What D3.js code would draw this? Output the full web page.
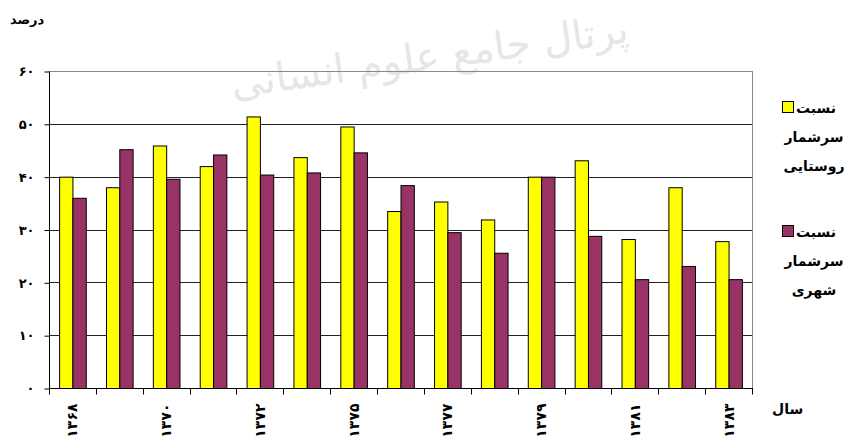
<!DOCTYPE html>
<html>
<head>
<meta charset="utf-8">
<script src="https://cdn.jsdelivr.net/npm/d3@7"></script>
<style>
  html, body { margin: 0; padding: 0; background: #fff; }
  svg { display: block; }
  text { font-family: "DejaVu Sans", "Noto Sans", sans-serif; font-weight: bold; fill: #000; }
</style>
</head>
<body>
<svg id="chart" width="848" height="439"></svg>
<script>
// Census coverage ratios by year (percent)
const years = ["1368", "1369", "1370", "1371", "1372", "1374", "1375", "1376", "1377", "1378", "1379", "1380", "1381", "1382", "1383"];
const labelledYears = ["1368", "1370", "1372", "1375", "1377", "1379", "1381", "1383"];
const ruralValues = [40.0, 38.0, 45.9, 42.0, 51.4, 43.7, 49.5, 33.5, 35.3, 31.9, 40.0, 43.1, 28.2, 38.0, 27.8];
const urbanValues = [36.0, 45.2, 39.6, 44.2, 40.4, 40.8, 44.6, 38.4, 29.5, 25.6, 40.0, 28.8, 20.6, 23.1, 20.6];
const yTicks = [0, 10, 20, 30, 40, 50, 60];
const seriesNames = ["rural", "urban"];
const legendLines = [["نسبت", "سرشمار", "روستایی"], ["نسبت", "سرشمار", "شهری"]];
const colors = { rural: "#FFFF00", urban: "#993366" };

const fa = s => String(s).replace(/[0-9]/g, d => "۰۱۲۳۴۵۶۷۸۹"[+d]);

const svg = d3.select("#chart");
const plotLeft = 49, plotRight = 752, plotTop = 71, plotBottom = 388;

const x = d3.scaleBand().domain(years).range([plotLeft, plotRight]).paddingInner(0).paddingOuter(0);
const xs = d3.scaleBand().domain(seriesNames).range([0, x.bandwidth()]).paddingInner(0).paddingOuter(0.76);
const y = d3.scaleLinear().domain([0, 60]).range([plotBottom, plotTop]);

// faint watermark
svg.append("text")
  .attr("x", 430).attr("y", 70)
  .attr("text-anchor", "middle")
  .attr("transform", "rotate(-8,430,60)")
  .style("font-size", "40px").style("font-weight", "normal")
  .style("fill", "#e6e6e6")
  .text("پرتال جامع علوم انسانی");

// horizontal gridlines
svg.append("g").selectAll("line").data(yTicks.filter(t => t > 0))
  .join("line")
  .attr("x1", plotLeft).attr("x2", plotRight)
  .attr("y1", d => Math.round(y(d)) + 0.5).attr("y2", d => Math.round(y(d)) + 0.5)
  .attr("stroke", d => d === 60 ? "#888" : "#222").attr("stroke-width", 1);

// right border
svg.append("line")
  .attr("x1", plotRight + 0.5).attr("x2", plotRight + 0.5)
  .attr("y1", y(60)).attr("y2", plotBottom)
  .attr("stroke", "#888");

// bars
const rows = years.map((yr, i) => ({ year: yr, rural: ruralValues[i], urban: urbanValues[i] }));
const groups = svg.append("g").selectAll("g").data(rows).join("g")
  .attr("transform", d => `translate(${x(d.year)},0)`);
groups.selectAll("rect")
  .data(d => seriesNames.map(k => ({ key: k, value: d[k] })))
  .join("rect")
  .attr("x", d => xs(d.key) + 0.5)
  .attr("y", d => y(d.value) + 0.5)
  .attr("width", xs.bandwidth())
  .attr("height", d => plotBottom - y(d.value))
  .attr("fill", d => colors[d.key])
  .attr("stroke", "#000").attr("stroke-width", 1);

// y axis
const yAxis = d3.axisLeft(y).tickValues(yTicks).tickSize(5).tickFormat(d => fa(d));
const gy = svg.append("g").attr("transform", `translate(${plotLeft + 0.5},0.5)`).call(yAxis);
gy.select(".domain").attr("stroke", "#000").attr("d", `M0,${plotTop}V${plotBottom}`);
gy.selectAll(".tick line").attr("stroke", "#000");
gy.selectAll(".tick text").attr("x", -15).style("font-size", "13px").style("font-family", "Liberation Sans, DejaVu Sans, sans-serif");

// x axis: ticks at band boundaries
const gx = svg.append("g").attr("transform", `translate(0,${plotBottom + 0.5})`);
gx.append("line").attr("x1", plotLeft).attr("x2", plotRight + 1).attr("stroke", "#000");
gx.selectAll(".bt").data(years.concat(["end"])).join("line")
  .attr("class", "bt")
  .attr("x1", (d, i) => Math.round(plotLeft + i * x.step()) + 0.5)
  .attr("x2", (d, i) => Math.round(plotLeft + i * x.step()) + 0.5)
  .attr("y1", 0).attr("y2", 6)
  .attr("stroke", "#000");
gx.selectAll(".yl").data(labelledYears).join("text")
  .attr("class", "yl")
  .attr("transform", d => `translate(${x(d) + x.bandwidth() / 2},15) rotate(-90)`)
  .attr("text-anchor", "end")
  .attr("dominant-baseline", "central")
  .style("font-size", "14px")
  .text(d => fa(d));

// axis titles
svg.append("text").attr("x", 10).attr("y", 24).style("font-size", "13px").text("درصد");
svg.append("text").attr("x", 772).attr("y", 414).style("font-size", "14px").text("سال");

// legend
const legend = svg.append("g");
seriesNames.forEach((k, i) => {
  const ly = 108 + i * 124;
  legend.append("rect")
    .attr("x", 782.5).attr("y", ly - 6.5)
    .attr("width", 11).attr("height", 11)
    .attr("fill", colors[k]).attr("stroke", "#000");
  legendLines[i].forEach((t, j) => {
    legend.append("text")
      .attr("x", j === 0 ? 836 : 814)
      .attr("y", ly + 5 + j * 29)
      .attr("text-anchor", j === 0 ? "end" : "middle")
      .style("font-size", "14px")
      .text(t);
  });
});
</script>
</body>
</html>
